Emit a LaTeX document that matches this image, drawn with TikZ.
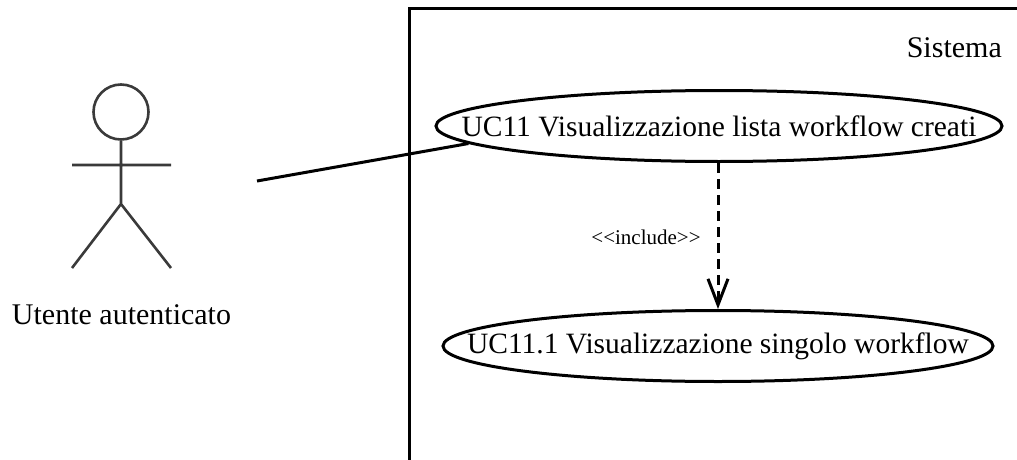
\documentclass[tikz,border=0pt]{standalone}
\usepackage{fontspec}
\setmainfont{Liberation Serif}
\usetikzlibrary{shapes.geometric,arrows.meta}
\definecolor{actorc}{HTML}{3A3A3A}
\tikzset{
  usecase/.style={draw=black,line width=3pt,ellipse,inner sep=0pt,font=\fontsize{29.5}{32}\selectfont},
  actorline/.style={draw=actorc,line width=2.6pt},
  conn/.style={draw=black,line width=3pt},
  lbl/.style={inner sep=0pt,font=\fontsize{30}{32}\selectfont},
}
\begin{document}
\begin{tikzpicture}[x=1pt,y=-1pt]
\useasboundingbox (0,0) rectangle (1017,460);
\draw[line width=3pt] (409,460) -- (409,9) -- (1017,9);
\node[lbl,anchor=east] (sys) at (1002,48) {Sistema};
\node[usecase,minimum width=566pt,minimum height=71pt] (uc1) at (719,126) {\makebox[0pt]{UC11 Visualizzazione lista workflow creati}};
\node[usecase,minimum width=550pt,minimum height=71pt] (uc2) at (718,346) {\makebox[0pt]{UC11.1 Visualizzazione singolo workflow}};
\coordinate (as) at (257,181);
\draw[conn] (as) -- (uc1.184.5);
\draw[conn,dash pattern=on 10pt off 6pt,-{Straight Barb[length=26pt,width=20pt,line width=3pt]}] (uc1.south -| uc2.north) -- (uc2.north);
\node[font=\fontsize{21}{22}\selectfont,inner sep=0pt] (inc) at (646,237) {{<}{<}include{>}{>}};
\node[actorline,circle,minimum size=55pt,inner sep=0pt] (head) at (121,112) {};
\coordinate (neck) at (121,165);
\coordinate (hip) at (121,204);
\coordinate (la) at (72,165);
\coordinate (ra) at (171,165);
\coordinate (lf) at (72,268);
\coordinate (rf) at (171,268);
\draw[actorline] (head.south) -- (hip) (la) -- (ra) (lf) -- (hip) -- (rf);
\node[lbl] (actor) at (121.5,315) {Utente autenticato};
\end{tikzpicture}
\end{document}
